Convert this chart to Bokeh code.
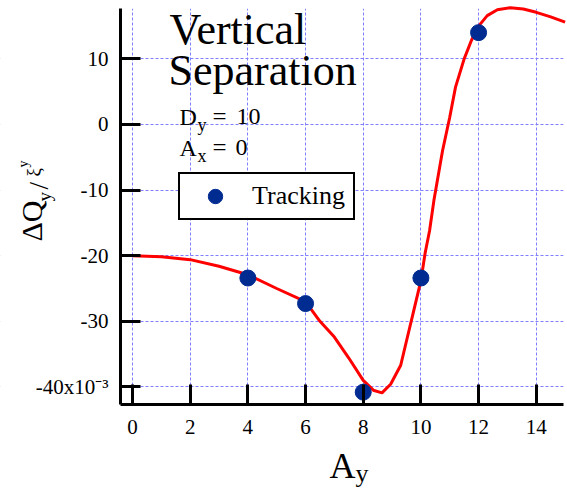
import math
from bokeh.plotting import figure
from bokeh.models import (Range1d, FixedTicker, Label, Legend, LegendItem,
                          BoxAnnotation)
from bokeh.embed import file_html
from bokeh.resources import INLINE

# ---- data ----
track_x = [4, 6, 8, 10, 12]
track_y = [-23.4, -27.3, -40.8, -23.4, 14.0]

curve_x = [0, 1, 2, 3, 4, 5, 6, 6.5, 7, 7.5, 8, 8.35, 8.65, 8.95, 9.3, 9.5,
           9.75, 10, 10.15, 10.3, 10.45, 10.75, 11, 11.2, 11.5, 11.75, 12,
           12.3, 12.65, 13.1, 13.55, 14, 14.5, 15]
curve_y = [-20, -20.15, -20.6, -21.6, -22.9, -25.0, -27.0, -30.0, -32.4, -35.6,
           -39.0, -40.5, -40.9, -39.6, -36.7, -33.0, -28.4, -23.8, -19.5, -16.2,
           -11.6, -4.0, 1.1, 5.7, 10.0, 12.8, 15.0, 16.6, 17.5, 17.8, 17.6, 17.1,
           16.4, 15.6]

x_ticks = [0, 2, 4, 6, 8, 10, 12, 14]
y_ticks = [-40, -30, -20, -10, 0, 10]
y_tick_labels = {-40: "-40x10\u207b\u00b3", -30: "-30", -20: "-20",
                 -10: "-10", 0: "0", 10: "10"}
x_tick_labels = {t: str(t) for t in x_ticks}

FONT = "Liberation Serif"
W, H = 567, 490

# axes box of the chart (data units)
X0, X1 = -0.416, 14.944
Y0, Y1 = -42.74, 17.63

p = figure(width=W, height=H, output_backend="svg", toolbar_location=None,
           x_range=Range1d(-4.577, 15.083), y_range=Range1d(-55.79, 18.90),
           min_border_left=0, min_border_right=0, min_border_top=0,
           min_border_bottom=0)
p.outline_line_color = None
p.background_fill_color = "white"
p.border_fill_color = "white"

p.xaxis.fixed_location = Y0
p.yaxis.fixed_location = X0
p.xaxis.bounds = (X0, X1)
p.yaxis.bounds = (Y0, Y1)

for ax, ticks, labels in ((p.xaxis[0], x_ticks, x_tick_labels),
                          (p.yaxis[0], y_ticks, y_tick_labels)):
    ax.ticker = FixedTicker(ticks=ticks)
    ax.major_label_overrides = labels
    ax.axis_line_width = 3
    ax.axis_line_color = "black"
    ax.major_tick_line_width = 3
    ax.major_tick_line_color = "black"
    ax.major_tick_in = 20
    ax.major_tick_out = 0
    ax.minor_tick_line_color = None
    ax.major_label_text_font = FONT
    ax.major_label_text_font_size = "21px"
    ax.major_label_text_color = "black"
p.xaxis.major_label_standoff = 15
p.yaxis.major_label_standoff = 12

for g, ticks in ((p.xgrid[0], x_ticks), (p.ygrid[0], y_ticks)):
    g.ticker = FixedTicker(ticks=ticks)
    g.grid_line_color = "#7f7fff"
    g.grid_line_dash = "3 2"
    g.grid_line_width = 1

# keep the grid inside the axes box
for l, r, b, t in ((-50, X0, -100, 100), (X1, 50, -100, 100),
                   (-50, 50, -100, Y0), (-50, 50, Y1, 100)):
    p.add_layout(BoxAnnotation(left=l, right=r, bottom=b, top=t,
                               fill_color="white", fill_alpha=1.0,
                               line_color=None, level="underlay"))

p.line(curve_x, curve_y, line_color="#ff0000", line_width=3)
pts = p.scatter(track_x, track_y, size=16, marker="circle",
                fill_color="#002b91", line_color="#002b91")

legend = Legend(items=[LegendItem(label="Tracking", renderers=[pts])],
                location=(178, H - 220),
                border_line_color="black", border_line_width=2,
                border_line_alpha=1.0,
                padding=4, glyph_width=62, glyph_height=36,
                label_standoff=6, label_width=97, spacing=0, margin=0,
                label_text_font=FONT, label_text_font_size="26px",
                label_text_color="black",
                background_fill_color="white", background_fill_alpha=1.0)
p.add_layout(legend)

K = 0.36  # baseline correction (fraction of font size)


def lab(text, ax, ay, size, rot=False):
    if rot:
        x, y, ang = ax - K * size, H - ay, math.pi / 2
    else:
        x, y, ang = ax, H - (ay - K * size), 0.0
    p.add_layout(Label(x=x, y=y, x_units="screen", y_units="screen",
                       text=text, text_font=FONT, text_font_size=f"{size}px",
                       text_color="black", text_align="left",
                       text_baseline="alphabetic", angle=ang))


# title inside the plot
lab("Vertical", 169, 45, 44)
lab("Separation", 168, 86, 44)
lab("D", 179, 125, 24)
lab("y", 197, 131, 18)
lab("=", 212, 125, 25)
lab("10", 236, 125, 24)
lab("A", 179, 156, 24)
lab("x", 197, 162, 18)
lab("=", 212, 156, 25)
lab("0", 235, 156, 24)

# x axis label
lab("A", 329, 478, 36)
lab("y", 355, 482, 26)

# y axis label (rotated)
lab("\u0394Q", 42, 241, 30, True)
lab("y", 51, 201, 19, True)
lab("/", 48, 189, 27, True)
lab("\u03be", 40, 176, 19, True)
lab("y", 28, 167, 14, True)

open("out.html", "w").write(file_html(p, INLINE))
